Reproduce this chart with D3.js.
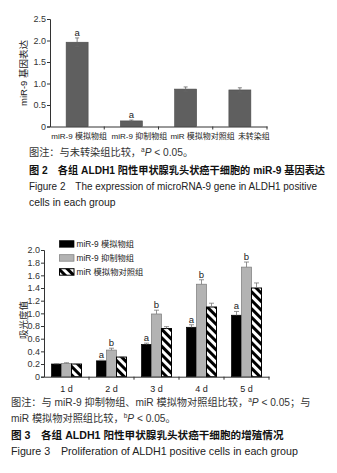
<!DOCTYPE html>
<html><head><meta charset="utf-8">
<script src="https://cdn.jsdelivr.net/npm/d3@7/dist/d3.min.js"></script>
<style>
body{margin:0;background:#fff;}
text{font-family:"Liberation Sans","Noto Sans CJK SC",sans-serif;}
</style></head>
<body>
<svg id="c" width="337" height="473"></svg>
<script>
// ---- Figure 2 data ----
const fig2Categories = ["miR-9 模拟物组", "miR-9 抑制物组", "miR 模拟物对照组", "未转染组"];
const fig2Values = [1.96, 0.13, 0.87, 0.85];
const fig2Errors = [0.10, 0.02, 0.05, 0.05];
const fig2Marks = ["a", "a", "", ""];
const fig2Ticks = [0, 0.5, 1.0, 1.5, 2.0, 2.5];
const fig2TickLabels = ["0", "0.5", "1.0", "1.5", "2.0", "2.5"];

// ---- Figure 3 data ----
const fig3Days = ["1 d", "2 d", "3 d", "4 d", "5 d"];
const fig3Series = ["miR-9 模拟物组", "miR-9 抑制物组", "miR 模拟物对照组"];
const fig3Mimic = [0.20, 0.25, 0.51, 0.78, 0.97];
const fig3Inhib = [0.21, 0.42, 0.99, 1.46, 1.73];
const fig3Ctrl = [0.20, 0.31, 0.76, 1.10, 1.40];
const fig3MimicErr = [0.005, 0.01, 0.02, 0.04, 0.06];
const fig3InhibErr = [0.01, 0.03, 0.06, 0.07, 0.08];
const fig3CtrlErr = [0.005, 0.005, 0.03, 0.06, 0.08];
const fig3MimicMarks = ["", "a", "a", "a", "a"];
const fig3InhibMarks = ["", "b", "b", "b", "b"];
const fig3CtrlMarks = ["", "", "", "", ""];
const fig3Ticks = [0, 0.2, 0.4, 0.6, 0.8, 1.0, 1.2, 1.4, 1.6, 1.8, 2.0];
const fig3TickLabels = ["0", "0.2", "0.4", "0.6", "0.8", "1.0", "1.2", "1.4", "1.6", "1.8", "2.0"];

const svg = d3.select("#c");
const defs = svg.append("defs");
const pat = defs.append("pattern").attr("id","hatch").attr("patternUnits","userSpaceOnUse")
  .attr("width",6).attr("height",6).attr("patternTransform","rotate(-45)");
pat.append("rect").attr("width",6).attr("height",6).attr("fill","#fff");
pat.append("rect").attr("width",3).attr("height",6).attr("fill","#000");

const axisColor = "#333";

// ================= Figure 2 =================
{
  const x = d3.scaleBand().domain(fig2Categories).range([50, 267]).paddingInner(0).paddingOuter(0);
  const y = d3.scaleLinear().domain([0, 2.5]).range([126.5, 19]);
  const g = svg.append("g");
  const bw = x.bandwidth() * 0.405;
  const data = fig2Categories.map((c,i)=>({c, v:fig2Values[i], e:fig2Errors[i], m:fig2Marks[i]}));
  g.selectAll("rect.bar").data(data).join("rect")
    .attr("x", d=>x(d.c)+x.bandwidth()/2-bw/2).attr("width", bw)
    .attr("y", d=>y(d.v)).attr("height", d=>y(0)-y(d.v))
    .attr("fill","#5f5f5f").attr("stroke","#4a4a4a").attr("stroke-width",0.6);
  const eb = g.selectAll("g.err").data(data).join("g").attr("stroke","#666").attr("stroke-width",0.8);
  eb.append("line").attr("x1",d=>x(d.c)+x.bandwidth()/2).attr("x2",d=>x(d.c)+x.bandwidth()/2)
    .attr("y1",d=>y(d.v-d.e)).attr("y2",d=>y(d.v+d.e));
  eb.append("line").attr("x1",d=>x(d.c)+x.bandwidth()/2-2).attr("x2",d=>x(d.c)+x.bandwidth()/2+2)
    .attr("y1",d=>y(d.v+d.e)).attr("y2",d=>y(d.v+d.e));
  eb.append("line").attr("x1",d=>x(d.c)+x.bandwidth()/2-2).attr("x2",d=>x(d.c)+x.bandwidth()/2+2)
    .attr("y1",d=>y(d.v-d.e)).attr("y2",d=>y(d.v-d.e));
  g.selectAll("text.mk").data(data).join("text")
    .attr("x",d=>x(d.c)+x.bandwidth()/2).attr("y",d=>y(d.v+d.e)-2)
    .attr("text-anchor","middle").attr("font-size",9.5).attr("fill","#222").text(d=>d.m);

  // y axis
  const ya = g.append("g").attr("transform","translate(50,0)")
    .call(d3.axisLeft(y).tickValues(fig2Ticks).tickFormat((d,i)=>fig2TickLabels[i]).tickSize(3).tickPadding(1));
  ya.select(".domain").attr("stroke",axisColor);
  ya.selectAll(".tick line").attr("stroke",axisColor);
  ya.selectAll("text").attr("font-size",9).attr("fill","#333");
  // x axis
  const xa = g.append("g").attr("transform","translate(0,126.5)")
    .call(d3.axisBottom(x).tickSize(0).tickSizeOuter(0).tickPadding(7));
  xa.select(".domain").attr("stroke",axisColor);
  const dxs = [2, 8, 17, 14];
  xa.selectAll("text").attr("font-size",8).attr("fill","#222").attr("dx",(d,i)=>dxs[i]);
  g.selectAll("line.bt").data(fig2Categories).join("line")
    .attr("x1",d=>x(d)+x.bandwidth()).attr("x2",d=>x(d)+x.bandwidth())
    .attr("y1",126.5).attr("y2",129.5).attr("stroke",axisColor);
  g.append("text").attr("transform","translate(27,73) rotate(-90)").attr("text-anchor","middle")
    .attr("font-size",9.5).attr("fill","#222").text("miR-9 基因表达");

  // captions
  const cap = svg.append("g").attr("font-size",10.2);
  const t1 = cap.append("text").attr("x",29).attr("y",156).attr("fill","#333");
  t1.append("tspan").text("图注：与未转染组比较，");
  t1.append("tspan").attr("font-size",6.5).attr("dy",-4).text("a");
  t1.append("tspan").attr("dy",4).attr("font-style","italic").text("P");
  t1.append("tspan").text(" < 0.05。");
  cap.append("text").attr("x",29).attr("y",174).attr("font-weight","bold").attr("fill","#111")
    .text("图 2\u3000各组 ALDH1 阳性甲状腺乳头状癌干细胞的 miR-9 基因表达");
  cap.append("text").attr("x",29).attr("y",190).attr("fill","#222").attr("font-size",10.4)
    .attr("textLength",288).attr("lengthAdjust","spacingAndGlyphs")
    .text("Figure 2\u2003The expression of microRNA-9 gene in ALDH1 positive");
  cap.append("text").attr("x",29).attr("y",206).attr("fill","#222").attr("font-size",10.4).text("cells in each group");
}

// ================= Figure 3 =================
{
  const x0 = d3.scaleBand().domain(fig3Days).range([44, 269]).paddingInner(0).paddingOuter(0);
  const inner = d3.scaleBand().domain(fig3Series).range([0, 30]);
  const y = d3.scaleLinear().domain([0, 2.0]).range([376.7, 250]);
  const g = svg.append("g");
  const vals = [fig3Mimic, fig3Inhib, fig3Ctrl];
  const errs = [fig3MimicErr, fig3InhibErr, fig3CtrlErr];
  const marks = [fig3MimicMarks, fig3InhibMarks, fig3CtrlMarks];
  const fills = ["#000", "#b3b3b3", "url(#hatch)"];
  const strokes = ["#000", "#7a7a7a", "#000"];
  const data = [];
  fig3Days.forEach((d,i)=>fig3Series.forEach((s,j)=>{
    data.push({d, s, j, v:vals[j][i], e:errs[j][i], m:marks[j][i]});
  }));
  const bx = d => x0(d.d) + x0.bandwidth()/2 - 15 + inner(d.s);
  g.selectAll("rect.bar").data(data).join("rect")
    .attr("x", bx).attr("width", inner.bandwidth())
    .attr("y", d=>y(d.v)).attr("height", d=>y(0)-y(d.v))
    .attr("fill", d=>fills[d.j]).attr("stroke", d=>strokes[d.j]).attr("stroke-width", d=>d.j==2?1:0.7);
  const cx = d => bx(d) + inner.bandwidth()/2;
  const eb = g.selectAll("g.err").data(data).join("g").attr("stroke","#777").attr("stroke-width",0.8);
  eb.append("line").attr("x1",cx).attr("x2",cx).attr("y1",d=>y(d.v)).attr("y2",d=>y(d.v+d.e));
  eb.append("line").attr("x1",d=>cx(d)-2.5).attr("x2",d=>cx(d)+2.5).attr("y1",d=>y(d.v+d.e)).attr("y2",d=>y(d.v+d.e));
  g.selectAll("text.mk").data(data).join("text")
    .attr("x",cx).attr("y",d=>y(d.v+d.e)-2)
    .attr("text-anchor","middle").attr("font-size",9.5).attr("fill","#222").text(d=>d.m);

  const ya = g.append("g").attr("transform","translate(44,0)")
    .call(d3.axisLeft(y).tickValues(fig3Ticks).tickFormat((d,i)=>fig3TickLabels[i]).tickSize(3).tickPadding(1));
  ya.select(".domain").attr("stroke",axisColor);
  ya.selectAll(".tick line").attr("stroke",axisColor);
  ya.selectAll("text").attr("font-size",9).attr("fill","#333");
  const xa = g.append("g").attr("transform","translate(0,376.7)")
    .call(d3.axisBottom(x0).tickSize(0).tickSizeOuter(0).tickPadding(9));
  xa.select(".domain").attr("stroke",axisColor);
  xa.selectAll("text").attr("font-size",9).attr("fill","#222");
  g.selectAll("line.bt").data(fig3Days).join("line")
    .attr("x1",d=>x0(d)+x0.bandwidth()).attr("x2",d=>x0(d)+x0.bandwidth())
    .attr("y1",376.7).attr("y2",379.7).attr("stroke",axisColor);
  g.append("text").attr("transform","translate(27,320) rotate(-90)").attr("text-anchor","middle")
    .attr("font-size",9.5).attr("fill","#222").text("吸光度值");

  // legend
  const lg = g.append("g");
  fig3Series.forEach((s,j)=>{
    const yy = 240.7 + j*14;
    lg.append("rect").attr("x",59.5).attr("y",yy).attr("width",14.5).attr("height",6.5)
      .attr("fill",fills[j]).attr("stroke",strokes[j]).attr("stroke-width",j==2?1:0.7);
    lg.append("text").attr("x",76.5).attr("y",yy+6.5).attr("font-size",8.3).attr("fill","#222").text(s);
  });

  const cap = svg.append("g").attr("font-size",10.2);
  const t1 = cap.append("text").attr("x",11).attr("y",406).attr("fill","#333");
  t1.append("tspan").text("图注：与 miR-9 抑制物组、miR 模拟物对照组比较，");
  t1.append("tspan").attr("font-size",6.5).attr("dy",-4).text("a");
  t1.append("tspan").attr("dy",4).attr("font-style","italic").text("P");
  t1.append("tspan").text(" < 0.05；与");
  const t2 = cap.append("text").attr("x",11).attr("y",422).attr("fill","#333");
  t2.append("tspan").text("miR 模拟物对照组比较，");
  t2.append("tspan").attr("font-size",6.5).attr("dy",-4).text("b");
  t2.append("tspan").attr("dy",4).attr("font-style","italic").text("P");
  t2.append("tspan").text(" < 0.05。");
  cap.append("text").attr("x",11).attr("y",439).attr("font-weight","bold").attr("fill","#111").attr("font-size",10.6)
    .text("图 3\u3000各组 ALDH1 阳性甲状腺乳头状癌干细胞的增殖情况");
  cap.append("text").attr("x",11).attr("y",455).attr("fill","#222").attr("font-size",10.7)
    .text("Figure 3\u2003Proliferation of ALDH1 positive cells in each group");
}
</script>
</body></html>
